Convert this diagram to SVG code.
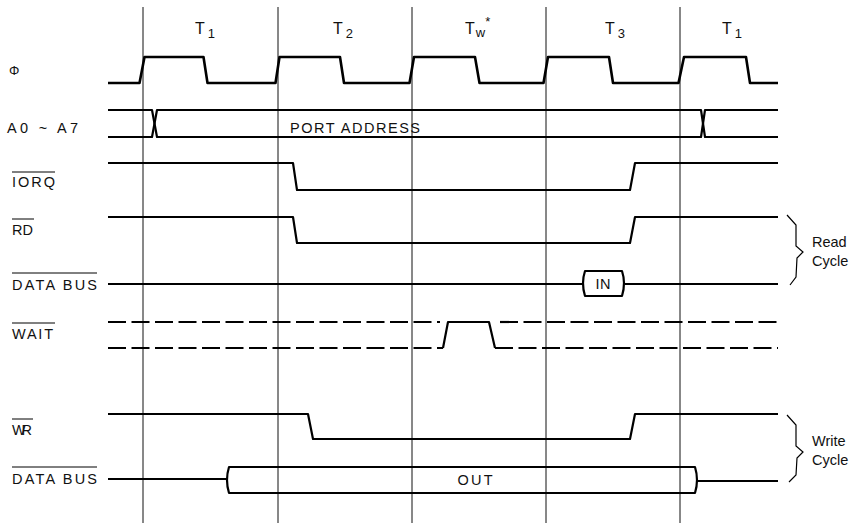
<svg xmlns="http://www.w3.org/2000/svg" width="857" height="527" viewBox="0 0 857 527">
<style>
  .grid { stroke: #111; stroke-width: 1; fill: none; }
  .wave { stroke: #000; stroke-width: 2.2; fill: none; stroke-linejoin: round; }
  .clk { stroke: #000; stroke-width: 2.6; fill: none; stroke-linejoin: round; }
  .dash { stroke: #000; stroke-width: 2.2; fill: none; stroke-dasharray: 18 5.5; }
  .thin { stroke: #000; stroke-width: 1.2; fill: none; }
  .ov { stroke: #000; stroke-width: 1; }
  text { font-family: "Liberation Sans", Arial, sans-serif; font-size: 14.5px; fill: #111; }
  .t { font-size: 16px; }
  .sub { font-size: 13px; }
  .side { font-size: 14.5px; }
</style>
<rect width="857" height="527" fill="#fff"/>

<g id="connectors">
  <line class="grid" x1="143" y1="7" x2="143" y2="523"/>
  <line class="grid" x1="278" y1="7" x2="278" y2="523"/>
  <line class="grid" x1="412" y1="7" x2="412" y2="523"/>
  <line class="grid" x1="546" y1="7" x2="546" y2="523"/>
  <line class="grid" x1="680" y1="7" x2="680" y2="523"/>
</g>

<g id="states">
  <text class="t" x="195" y="34">T<tspan class="sub" dx="3" dy="4">1</tspan></text>
  <text class="t" x="333" y="34">T<tspan class="sub" dx="3" dy="4">2</tspan></text>
  <text class="t" x="465" y="34">T<tspan class="sub" dx="1" dy="3">w</tspan><tspan class="sub" dy="-11">*</tspan></text>
  <text class="t" x="605" y="34">T<tspan class="sub" dx="3" dy="4">3</tspan></text>
  <text class="t" x="722" y="34">T<tspan class="sub" dx="3" dy="4">1</tspan></text>
</g>

<g id="clock">
  <text x="9" y="75" style="font-size:13px">Φ</text>
  <path class="clk" d="M108,83 L139.5,83 L144.5,57 L203.5,57 L207.5,83 L275.5,83 L279.5,57 L340,57 L344,83 L409.5,83 L414,57 L475,57 L479.5,83 L543.5,83 L548,57 L609,57 L613,83 L678.5,83 L684,57 L746,57 L750,83 L778,83"/>
</g>

<g id="address">
  <text x="7" y="133" textLength="71" lengthAdjust="spacing">A0 ~ A7</text>
  <path class="wave" d="M108,110 L152,110 L157,137 L701,137 L705,110 L778,110"/>
  <path class="wave" d="M108,137 L152,137 L157,110 L701,110 L705,137 L778,137"/>
  <text x="290" y="133" textLength="130" lengthAdjust="spacing">PORT ADDRESS</text>
</g>

<g id="iorq">
  <text x="12" y="187" textLength="43" lengthAdjust="spacing">IORQ</text>
  <line class="ov" x1="12" y1="172" x2="55" y2="172"/>
  <path class="wave" d="M108,163 L293,163 L297,190 L630,190 L635,163 L778,163"/>
</g>

<g id="rd">
  <text x="12" y="235" textLength="21" lengthAdjust="spacing">RD</text>
  <line class="ov" x1="12" y1="219" x2="34" y2="219"/>
  <path class="wave" d="M108,217 L293,217 L297,243 L630,243 L635,217 L778,217"/>
</g>

<g id="databus-read">
  <text x="12" y="290" textLength="85" lengthAdjust="spacing">DATA BUS</text>
  <line class="ov" x1="12" y1="273" x2="97" y2="273"/>
  <path class="wave" d="M108,284 L582,284"/>
  <path class="wave" d="M585,271 L622,271 Q626,283 622,296 L585,296 Q581,283 585,271 Z"/>
  <path class="wave" d="M625,284 L778,284"/>
  <text x="603" y="289" text-anchor="middle" textLength="15" lengthAdjust="spacing">IN</text>
</g>

<g id="read-cycle">
  <path class="thin" d="M787,215 L796,225 L796,246 L803,252 L797,258 L796,277 L790,285"/>
  <text class="side" x="812" y="247">Read</text>
  <text class="side" x="812" y="266">Cycle</text>
</g>

<g id="wait">
  <text x="12" y="339" textLength="41" lengthAdjust="spacing">WAIT</text>
  <line class="ov" x1="12" y1="323" x2="55" y2="323"/>
  <path class="dash" d="M108,322 L440,322"/>
  <path class="dash" d="M108,348 L443,348"/>
  <path class="wave" d="M443,348 L448,322 L489,322 L495,348"/>
  <path class="dash" d="M500,322 L778,322"/>
  <path class="dash" d="M495,348 L778,348"/>
</g>

<g id="wr">
  <text x="12" y="435" textLength="20" lengthAdjust="spacing">WR</text>
  <line class="ov" x1="12" y1="419" x2="33" y2="419"/>
  <path class="wave" d="M108,414 L308,414 L313,439 L630,439 L635,414 L778,414"/>
</g>

<g id="databus-write">
  <text x="12" y="484" textLength="85" lengthAdjust="spacing">DATA BUS</text>
  <line class="ov" x1="12" y1="467" x2="97" y2="467"/>
  <path class="wave" d="M108,479 L226,479"/>
  <path class="wave" d="M229,467 L695,467 Q699,480 695,493 L229,493 Q225,480 229,467 Z"/>
  <path class="wave" d="M698,481 L778,481"/>
  <text x="475" y="485" text-anchor="middle" textLength="35" lengthAdjust="spacing">OUT</text>
</g>

<g id="write-cycle">
  <path class="thin" d="M787,415 L796,425 L796,446 L803,452 L797,458 L796,475 L789,482"/>
  <text class="side" x="812" y="446">Write</text>
  <text class="side" x="812" y="465">Cycle</text>
</g>
</svg>
